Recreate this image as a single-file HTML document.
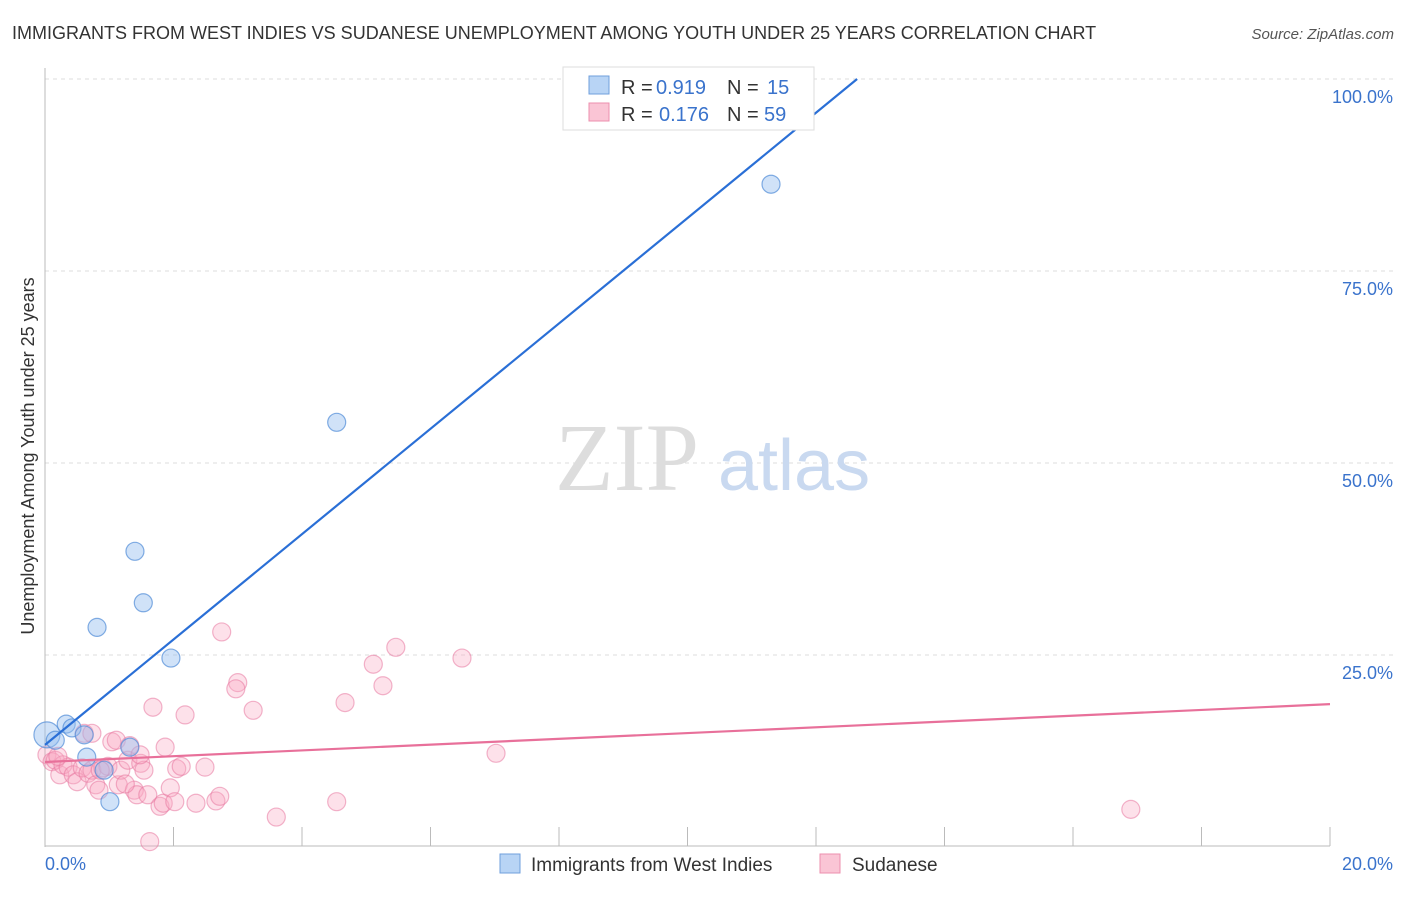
<!DOCTYPE html>
<html><head><meta charset="utf-8"><style>
body{margin:0;background:#fff;font-family:"Liberation Sans",sans-serif;}
svg text{font-family:"Liberation Sans",sans-serif;}
</style></head><body>
<svg width="1406" height="892" viewBox="0 0 1406 892">
<text x="12" y="39" font-size="18" fill="#333">IMMIGRANTS FROM WEST INDIES VS SUDANESE UNEMPLOYMENT AMONG YOUTH UNDER 25 YEARS CORRELATION CHART</text>
<text x="1394" y="39" font-size="15" fill="#555" font-style="italic" text-anchor="end">Source: ZipAtlas.com</text>
<g id="grid"></g>
<text x="555" y="490" font-size="96" fill="#ddd" style="font-family:'Liberation Serif',serif">ZIP</text>
<text x="718" y="490" font-size="72" fill="#c9d9f0">atlas</text>
<g id="axes"></g>
<g id="pts"></g>
<g id="lines"></g>
<text transform="translate(34,456) rotate(-90)" font-size="18" fill="#333" text-anchor="middle">Unemployment Among Youth under 25 years</text>
<g>
<rect x="563" y="67" width="251" height="63" fill="#fff" stroke="#ddd"/>
<rect x="589" y="76" width="20" height="18" fill="#b8d4f5" stroke="#6f9fdc"/>
<rect x="589" y="103" width="20" height="18" fill="#fac5d5" stroke="#ec8fae"/>
<text x="621" y="94" font-size="20" fill="#333">R =</text>
<text x="656" y="94" font-size="20" fill="#3a73cc">0.919</text>
<text x="727" y="94" font-size="20" fill="#333">N =</text>
<text x="767" y="94" font-size="20" fill="#3a73cc">15</text>
<text x="621" y="121" font-size="20" fill="#333">R =</text>
<text x="659" y="121" font-size="20" fill="#3a73cc">0.176</text>
<text x="727" y="121" font-size="20" fill="#333">N =</text>
<text x="764" y="121" font-size="20" fill="#3a73cc">59</text>
</g>
<g>
<rect x="500" y="854" width="20" height="19" fill="#b8d4f5" stroke="#6f9fdc"/>
<text x="531" y="871" font-size="19" fill="#333">Immigrants from West Indies</text>
<rect x="820" y="854" width="20" height="19" fill="#fac5d5" stroke="#ec8fae"/>
<text x="852" y="871" font-size="19" fill="#333">Sudanese</text>
</g>
</svg>
<script>
const yTicks=[25,50,75,100];
const yTickLabels=["25.0%","50.0%","75.0%","100.0%"];
const xTickLabels=["0.0%","20.0%"];
const blueX=[0.03,0.16,0.33,0.42,0.61,0.65,0.81,0.92,1.01,1.32,1.40,1.53,1.96,4.54,11.30];
const blueY=[14.6,13.9,16.0,15.5,14.6,11.7,28.6,10.0,5.9,13.0,38.5,31.8,24.6,55.3,86.3];
const pinkPx=[222,396,462,373,238,236,383,345,253,153,185,496,1131,337,276,150,47,52,55,60,63,68,73,77,82,84,88,92,96,99,103,108,112,116,118,121,128,130,134,137,141,144,148,160,163,165,170,175,177,181,196,205,216,220,92,58,125,140,100];
const pinkPy=[632,647,658,664,683,689,686,703,710,707,715,753,809,802,817,842,755,762,760,775,765,767,775,782,768,733,773,770,785,790,768,766,742,740,785,770,760,746,790,795,763,770,795,806,803,747,788,802,769,766,803,767,801,796,733,756,784,755,770];
const pinkX=pinkPx.map(p=>+((p-45)/64.25).toFixed(2));
const pinkY=pinkPy.map(p=>+((847-p)/7.68).toFixed(1));
const blueLine=[[0,13.3],[12.64,100]];
const pinkLine=[[0,11.07],[20,18.6]];
const X=v=>45+v/20*1285, Y=v=>847-v/100*768;
const NS="http://www.w3.org/2000/svg";
function mk(p,t,a){const e=document.createElementNS(NS,t);for(const k in a)e.setAttribute(k,a[k]);p.appendChild(e);return e;}
const grid=document.getElementById('grid'),axes=document.getElementById('axes');
yTicks.forEach((t,i)=>{
 const g=mk(grid,'line',{x1:45,x2:1395,y1:Y(t),y2:Y(t),stroke:'#ddd','stroke-dasharray':'4,4'});
 
 
 const l=mk(axes,'text',{x:1393,y:Y(t)+24,'font-size':18,fill:'#3a73cc','text-anchor':'end'});l.textContent=yTickLabels[i];
 
 
});
mk(axes,'line',{x1:45,x2:45,y1:68,y2:847,stroke:'#bbb'});
mk(axes,'line',{x1:45,x2:1330,y1:846,y2:846,stroke:'#bbb'});
for(let i=1;i<=10;i++){const t=mk(axes,'line',{x1:X(i*2),x2:X(i*2),y1:827,y2:846,stroke:'#bbb'});
 
 }
[[0,'start',45],[1,'end',1393]].forEach(([i,a,x])=>{const l=mk(axes,'text',{x:x,y:870,'font-size':18,fill:'#3a73cc','text-anchor':a});l.textContent=xTickLabels[i];
 
 });
const pts=document.getElementById('pts');
pinkX.forEach((x,i)=>{const c=mk(pts,'circle',{cx:X(x),cy:Y(pinkY[i]),r:9,fill:'rgba(248,170,195,0.35)',stroke:'rgba(232,120,160,0.55)','stroke-width':1.2});
 
 });
blueX.forEach((x,i)=>{const c=mk(pts,'circle',{cx:X(x),cy:Y(blueY[i]),r:i==0?13:9,fill:'rgba(150,190,240,0.45)',stroke:'rgba(80,140,215,0.7)','stroke-width':1.2});
 
 });
const lines=document.getElementById('lines');
const bl=mk(lines,'line',{x1:X(blueLine[0][0]),y1:Y(blueLine[0][1]),x2:X(blueLine[1][0]),y2:Y(blueLine[1][1]),stroke:'#2a6fd6','stroke-width':2.2});


const pl=mk(lines,'line',{x1:X(pinkLine[0][0]),y1:Y(pinkLine[0][1]),x2:X(pinkLine[1][0]),y2:Y(pinkLine[1][1]),stroke:'#e8709a','stroke-width':2.2});


</script>
</body></html>
